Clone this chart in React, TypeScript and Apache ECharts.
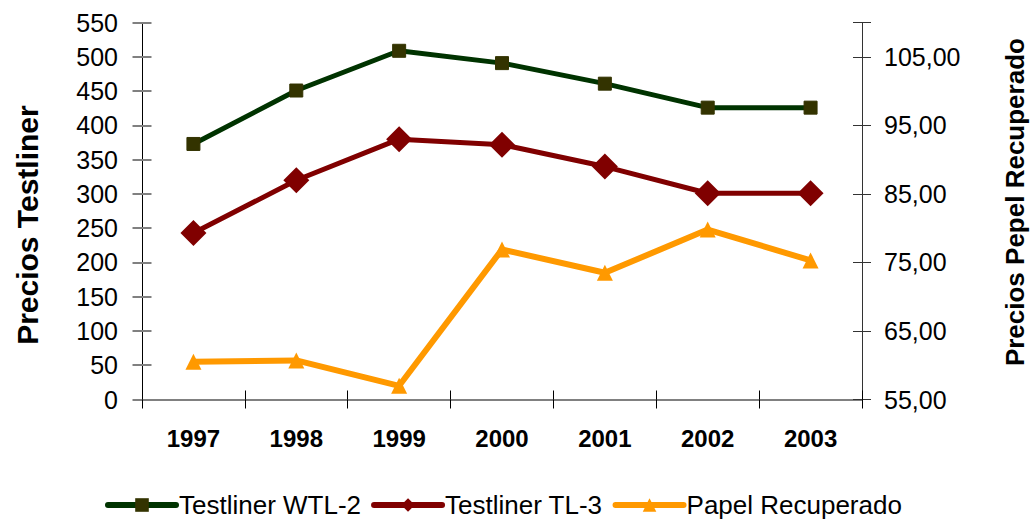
import React, { useEffect, useRef } from "react";
import * as echarts from "echarts";

const years = ["1997", "1998", "1999", "2000", "2001", "2002", "2003"];
const wtl2 = [373, 451, 509, 491, 461, 426, 426];
const tl3 = [243, 320, 380, 372, 340, 301, 301];
const papel = [60.5, 60.7, 57.0, 76.9, 73.5, 79.8, 75.3];

const FONT = "'Liberation Sans', Arial, sans-serif";

export default function App() {
  const ref = useRef<HTMLDivElement>(null);
  useEffect(() => {
    if (!ref.current) return;
    const chart = echarts.init(ref.current, null, { renderer: "svg" });
    const leftY = { min: 0, max: 550, interval: 50 };
    const rightY = { min: 55, max: 110, interval: 10 };
    chart.setOption({
      animation: false,
      backgroundColor: "#ffffff",
      textStyle: { fontFamily: FONT },
      grid: { left: 142, right: 173, top: 22.7, bottom: 122.5, containLabel: false },
      legend: {
        top: 487,
        left: 100,
        itemWidth: 68,
        itemHeight: 17,
        itemGap: 10,
        lineStyle: { width: 6, cap: "round" },
        textStyle: { fontFamily: FONT, fontSize: 26, lineHeight: 26, color: "#000", padding: [0, 0, 0, -2] },
        data: ["Testliner WTL-2", "Testliner TL-3", "Papel Recuperado"],
      },
      xAxis: [
        {
          type: "category",
          data: years,
          boundaryGap: true,
          axisLine: { onZero: false, lineStyle: { color: "#808080", width: 2 } },
          axisTick: { show: true, length: 9, lineStyle: { color: "#000", width: 1 } },
          axisLabel: { fontFamily: FONT, fontSize: 24, fontWeight: "bold", color: "#000", margin: 27 },
          splitLine: { show: false },
        },
        {
          type: "category",
          data: years,
          position: "bottom",
          boundaryGap: true,
          axisLine: { show: false, onZero: false },
          axisTick: { show: true, inside: true, length: 9, lineStyle: { color: "#000", width: 1 } },
          axisLabel: { show: false },
          splitLine: { show: false },
        },
      ],
      yAxis: [
        {
          type: "value",
          position: "left",
          ...leftY,
          name: "Precios Testliner",
          nameLocation: "middle",
          nameGap: 100,
          nameRotate: 90,
          nameTextStyle: { fontFamily: FONT, fontSize: 30, fontWeight: "bold", color: "#000", padding: [0, 28, 0, 0] },
          axisLine: { show: true, lineStyle: { color: "#000", width: 1 } },
          axisTick: { show: true, length: 9.5, lineStyle: { color: "#808080", width: 2 } },
          axisLabel: { fontFamily: FONT, fontSize: 25, color: "#000", margin: 24 },
          splitLine: { show: false },
        },
        {
          type: "value",
          position: "right",
          ...rightY,
          name: "Precios Pepel Recuperado",
          nameLocation: "middle",
          nameGap: 140,
          nameRotate: 90,
          nameTextStyle: { fontFamily: FONT, fontSize: 26, fontWeight: "bold", color: "#000", padding: [0, 0, 0, 18] },
          axisLine: { show: true, lineStyle: { color: "#333", width: 1 } },
          axisTick: { show: true, length: 9, lineStyle: { color: "#333", width: 1 } },
          axisLabel: {
            fontFamily: FONT,
            fontSize: 25,
            color: "#000",
            margin: 22,
            formatter: (v: number) => (v >= 110 ? "" : v.toFixed(2).replace(".", ",")),
          },
          splitLine: { show: false },
        },
        {
          type: "value",
          position: "left",
          ...leftY,
          axisLine: { show: false },
          axisTick: { show: true, inside: true, length: 9.5, lineStyle: { color: "#808080", width: 2 } },
          axisLabel: { show: false },
          splitLine: { show: false },
        },
        {
          type: "value",
          position: "right",
          ...rightY,
          axisLine: { show: false },
          axisTick: { show: true, inside: true, length: 9, lineStyle: { color: "#333", width: 1 } },
          axisLabel: { show: false },
          splitLine: { show: false },
        },
      ],
      series: [
        {
          name: "Testliner WTL-2",
          type: "line",
          data: wtl2,
          yAxisIndex: 0,
          symbol: "rect",
          symbolSize: 13,
          lineStyle: { color: "#003300", width: 5 },
          itemStyle: { color: "#333300", borderColor: "#333300" },
          color: "#003300",
        },
        {
          name: "Testliner TL-3",
          type: "line",
          data: tl3,
          yAxisIndex: 0,
          symbol: "diamond",
          symbolSize: 26,
          lineStyle: { color: "#800000", width: 5 },
          itemStyle: { color: "#800000" },
          color: "#800000",
        },
        {
          name: "Papel Recuperado",
          type: "line",
          data: papel,
          yAxisIndex: 1,
          symbol: "triangle",
          symbolSize: 16,
          lineStyle: { color: "#ff9900", width: 6 },
          itemStyle: { color: "#ff9900" },
          color: "#ff9900",
        },
      ],
    });
    return () => chart.dispose();
  }, []);
  return (
    <div
      ref={ref}
      style={{ position: "absolute", left: 0, top: 0, width: 1036, height: 522, background: "#fff" }}
    />
  );
}
